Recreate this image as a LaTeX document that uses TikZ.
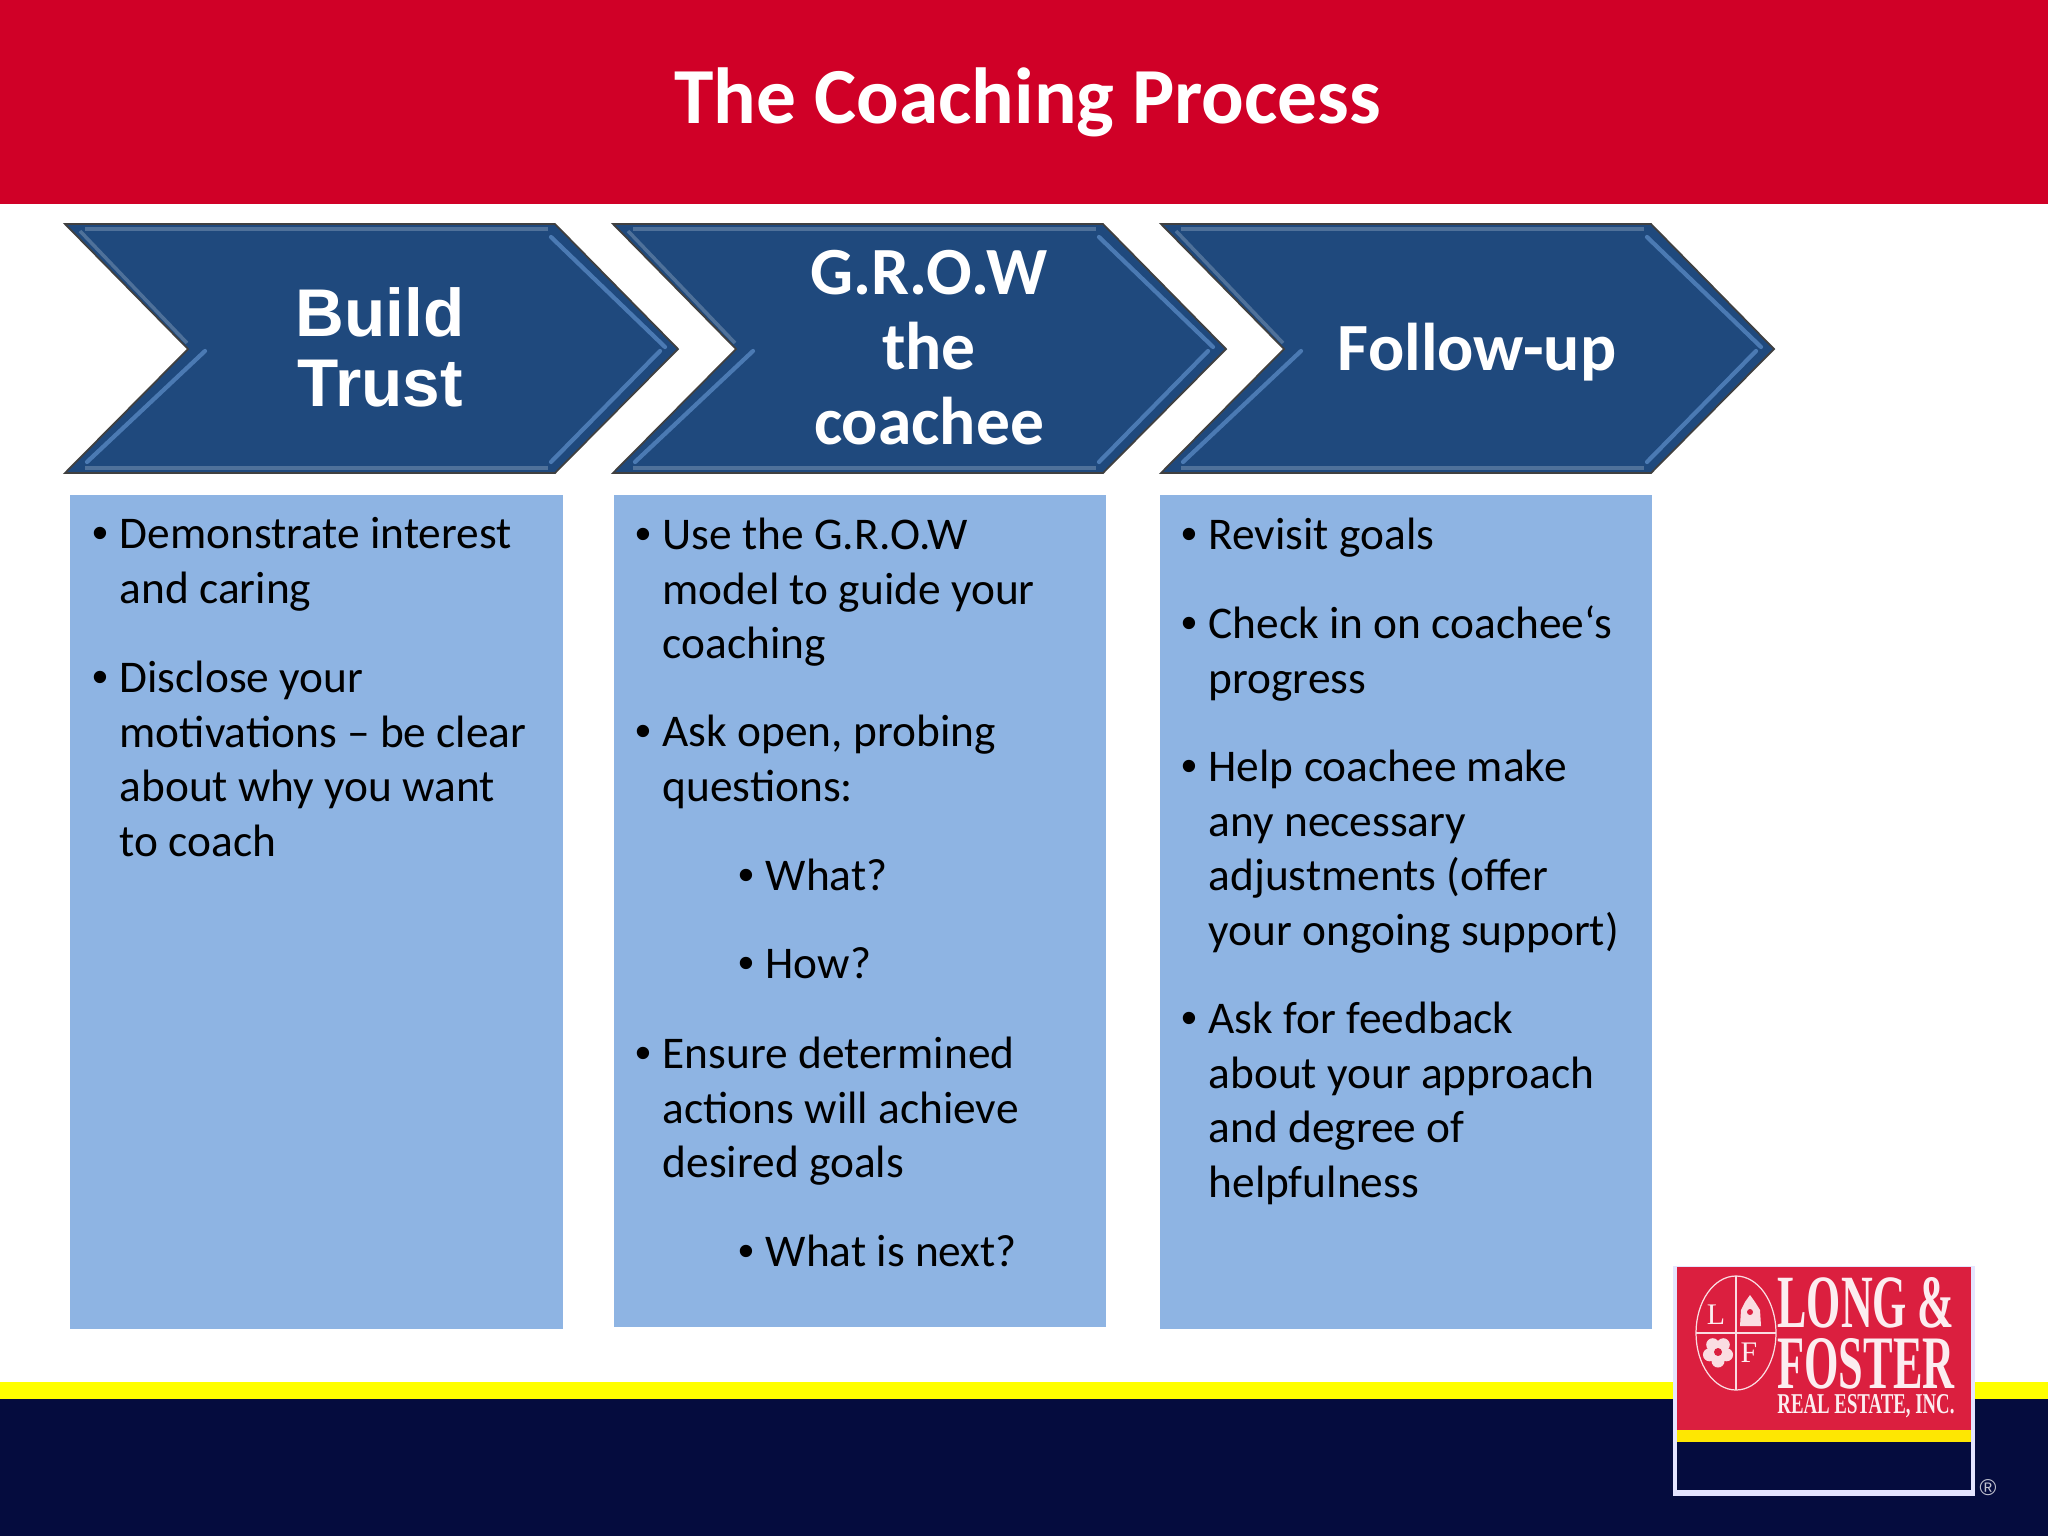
\documentclass[tikz,border=0pt]{standalone}
\usepackage{fontspec}
\setmainfont{Carlito}
\newfontfamily\arialfont{Liberation Sans}
\newfontfamily\logofont{Liberation Serif}
\usepackage{tikz}
\usetikzlibrary{positioning}
\definecolor{headred}{HTML}{D00027}
\definecolor{footnavy}{HTML}{050C3E}
\definecolor{bandyellow}{HTML}{FFFF00}
\definecolor{panelblue}{HTML}{8EB4E3}
\definecolor{chevblue}{HTML}{1F497D}
\definecolor{chevlight}{HTML}{5F8FCB}
\definecolor{chevgrey}{HTML}{6F8DAE}
\definecolor{logored}{HTML}{DB1F3F}
\newcommand{\bul}{\llap{{\arialfont •}\hspace{0.11cm}}}
\tikzset{
  panel/.style={fill=panelblue,draw=none},
  item/.style={anchor=north west,inner sep=0pt,align=left,text=black,font=\fontsize{12.9}{15.6}\selectfont},
  chevlabel/.style={text=white,align=center,inner sep=0pt,font=\fontsize{19.2}{21.3}\selectfont\bfseries},
  chevedge/.style={draw=black!75,line width=0.5pt,fill=chevblue,line join=miter},
  chevstrip/.style={line width=1.2pt,chevlight,opacity=0.7,line cap=round},
  chevband/.style={line width=1pt,chevgrey,opacity=0.6},
  logotext/.style={text=white!92!logored,inner sep=0pt},
  logomark/.style={white!85!logored,line width=0.35pt}
}
\begin{document}
\begin{tikzpicture}[x=0.01cm,y=-0.01cm]
  \useasboundingbox (0,0) rectangle (2048,1536);
  % header and footer
  \fill[headred] (0,0) rectangle (2048,204);
  \fill[bandyellow] (0,1382) rectangle (2048,1399);
  \fill[footnavy] (0,1399) rectangle (2048,1536);
  \node[text=white,inner sep=0pt,font=\fontsize{22.6}{26}\selectfont\bfseries] (title) at (1028,102) {The Coaching Process};

  % chevrons
  \foreach \off in {0,548,1096} {
    \draw[chevedge] (\off+65,224) -- (\off+555,224) -- (\off+678,349) -- (\off+555,473)
      -- (\off+65,473) -- (\off+188,349) -- cycle;
    \draw[chevband] (\off+85,229) -- (\off+548,229);
    \draw[chevband] (\off+85,468) -- (\off+548,468);
    \draw[chevstrip] (\off+551,237) -- (\off+665,347);
    \draw[chevstrip] (\off+660,351) -- (\off+551,462);
    \draw[chevstrip] (\off+205,351) -- (\off+87,462);
    \draw[chevband] (\off+80,231) -- (\off+187,343);
  }
  \node[chevlabel,font=\fontsize{19.2}{19.9}\selectfont\bfseries\arialfont] (build) at (380,347) {Build\\Trust};
  \node[chevlabel] (grow) at (929,348) {G.R.O.W\\the\\coachee};
  \node[chevlabel] (follow) at (1477,352) {Follow-up};

  % panels
  \fill[panel] (70,495) rectangle (563,1329);
  \fill[panel] (614,495) rectangle (1106,1327);
  \fill[panel] (1160,495) rectangle (1652,1329);

  % first panel
  \node[item] (ta) at (119,517) {\bul Demonstrate interest\\and caring};
  \node[item] (tb) at (119,660) {\bul Disclose your\\motivations -- be clear\\about why you want\\to coach};

  % second panel
  \node[item] (ga) at (662,517) {\bul Use the G.R.O.W\\model to guide your\\coaching};
  \node[item] (gb) at (662,714) {\bul Ask open, probing\\questions:};
  \node[item] (gc) at (765,858) {\bul What?};
  \node[item] (gd) at (765,947) {\bul How?};
  \node[item] (ge) at (662,1036) {\bul Ensure determined\\actions will achieve\\desired goals};
  \node[item] (gf) at (765,1234) {\bul What is next?};

  % third panel
  \node[item] (fa) at (1208,517) {\bul Revisit goals};
  \node[item] (fb) at (1208,605) {\bul Check in on coachee‘s\\progress};
  \node[item] (fc) at (1208,749) {\bul Help coachee make\\any necessary\\adjustments (offer\\your ongoing support)};
  \node[item] (fd) at (1208,1001) {\bul Ask for feedback\\about your approach\\and degree of\\helpfulness};

  % logo
  \fill[white!90!blue] (1673,1266) rectangle (1975,1496);
  \fill[logored] (1677,1267) rectangle (1971,1430);
  \fill[yellow!90!orange] (1677,1430) rectangle (1971,1442);
  \fill[footnavy] (1677,1442) rectangle (1971,1490);
  \draw[logomark] (1736,1333) ellipse (40 and 57);
  \draw[logomark] (1736,1276) -- (1736,1390) (1696,1333) -- (1776,1333);
  \node[logotext,font=\logofont\fontsize{8.5}{8.5}\selectfont] (logol) at (1716,1315) {L};
  \node[logotext,font=\logofont\fontsize{8.5}{8.5}\selectfont] (logof) at (1749,1353) {F};
  % crest and rose
  \fill[white!85!logored] (1741,1310) -- (1745,1302) -- (1750,1295) -- (1755,1302) -- (1760,1310)
    -- (1761,1326) -- (1740,1326) -- cycle;
  \fill[logored] (1750,1312) circle (3);
  \foreach \ang in {90,162,234,306,18} {
    \fill[white!85!logored] (1718,1352) ++(\ang:9) circle (6.5);
  }
  \fill[logored] (1718,1352) circle (4);
  \node[logotext] (logoa) at (1866,1303) {\resizebox{1.77cm}{0.5cm}{\logofont\bfseries LONG \&}};
  \node[logotext] (logob) at (1866,1364) {\resizebox{1.77cm}{0.5cm}{\logofont\bfseries FOSTER}};
  \node[logotext] (logoc) at (1866,1406) {\resizebox{1.77cm}{0.19cm}{\logofont\bfseries REAL ESTATE, INC.}};
  \node[text=white!75!footnavy,inner sep=0pt,font=\arialfont\fontsize{6.5}{6.5}\selectfont] (logor) at (1988,1488) {®};
\end{tikzpicture}
\end{document}
